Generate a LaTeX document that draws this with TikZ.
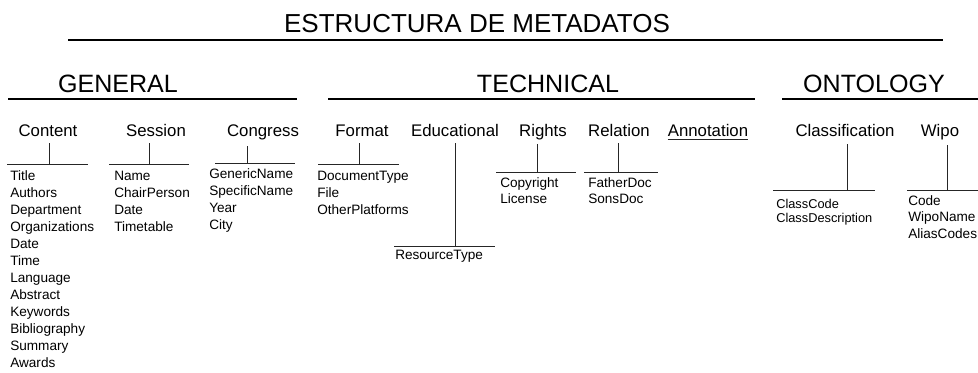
\documentclass[tikz,border=0pt]{standalone}
\usepackage{fontspec}
\setmainfont{Liberation Sans}

\begin{document}
\begin{tikzpicture}[x=0.75pt,y=-0.75pt]
        \tikzstyle{every node}+=[inner sep=0pt]
        \tikzstyle{head}=[font=\fontsize{18.8}{22}\selectfont, anchor=base]
        \tikzstyle{sub}=[font=\fontsize{12.6}{15}\selectfont, anchor=base]
        \tikzstyle{items}=[font=\fontsize{10.2}{12.8}\selectfont, anchor=north west, align=left]
        \tikzstyle{rule}=[black, line width=1.5pt]
        \tikzstyle{branch}=[black!85, line width=0.75pt]
        \useasboundingbox (0,0) rectangle (978,372);
        % title
        \node [head, font=\fontsize{19.5}{22}\selectfont] (title) at (477,32) {ESTRUCTURA DE METADATOS};
        \coordinate (titleL) at (68,40);
        \coordinate (titleR) at (943,40);
        \draw [black, line width=0.9pt] (titleL) -- (titleR);
        % sections
        \node [head] (general) at (118,92) {GENERAL};
        \coordinate (generalL) at (8,99);
        \coordinate (generalR) at (297,99);
        \draw [rule] (generalL) -- (generalR);
        \node [head] (technical) at (548,92) {TECHNICAL};
        \coordinate (technicalL) at (328,99);
        \coordinate (technicalR) at (755,99);
        \draw [rule] (technicalL) -- (technicalR);
        \node [head] (ontology) at (874,92) {ONTOLOGY};
        \coordinate (ontologyL) at (782,99);
        \coordinate (ontologyR) at (978,99);
        \draw [rule] (ontologyL) -- (ontologyR);
        % general
        \node [sub] (content) at (48,136) {Content};
        \coordinate (contentbar) at (49,164);
        \coordinate (contentL) at (7,164);
        \coordinate (contentR) at (88,164);
        \draw [branch] (contentL) -- (contentR);
        \draw [branch] ([yshift=-5pt]content.south -| contentbar) -- (contentbar);
        \node [items] (contentlist) at (10,170) {Title\\Authors\\Department\\Organizations\\Date\\Time\\Language\\Abstract\\Keywords\\Bibliography\\Summary\\Awards};
        \node [sub] (session) at (156,136) {Session};
        \coordinate (sessionbar) at (149,164);
        \coordinate (sessionL) at (109,164);
        \coordinate (sessionR) at (189,164);
        \draw [branch] (sessionL) -- (sessionR);
        \draw [branch] ([yshift=-5pt]session.south -| sessionbar) -- (sessionbar);
        \node [items] (sessionlist) at (114,171) {Name\\ChairPerson\\Date\\Timetable};
        \node [sub] (congress) at (263,136) {Congress};
        \coordinate (congressbar) at (247,163);
        \coordinate (congressL) at (215,163);
        \coordinate (congressR) at (295,163);
        \draw [branch] (congressL) -- (congressR);
        \draw [branch] ([yshift=-5pt]congress.south -| congressbar) -- (congressbar);
        \node [items] (congresslist) at (209,168) {GenericName\\SpecificName\\Year\\City};
        % technical
        \node [sub] (format) at (362,136) {Format};
        \coordinate (formatbar) at (359,164);
        \coordinate (formatL) at (318,164);
        \coordinate (formatR) at (399,164);
        \draw [branch] (formatL) -- (formatR);
        \draw [branch] ([yshift=-5pt]format.south -| formatbar) -- (formatbar);
        \node [items] (formatlist) at (317,171) {DocumentType\\File\\OtherPlatforms};
        \node [sub] (educational) at (455,136) {Educational};
        \coordinate (educationalbar) at (455,246);
        \coordinate (educationalL) at (394,246);
        \coordinate (educationalR) at (495,246);
        \draw [branch] (educationalL) -- (educationalR);
        \draw [branch] ([yshift=-5pt]educational.south -| educationalbar) -- (educationalbar);
        \node [items] (educationallist) at (395,250) {ResourceType};
        \node [sub] (rights) at (543,136) {Rights};
        \coordinate (rightsbar) at (537,172);
        \coordinate (rightsL) at (496,172);
        \coordinate (rightsR) at (576,172);
        \draw [branch] (rightsL) -- (rightsR);
        \draw [branch] ([yshift=-3pt]rights.south -| rightsbar) -- (rightsbar);
        \node [items, font=\fontsize{10.2}{12.5}\selectfont] (rightslist) at (500,177) {Copyright\\License};
        \node [sub] (relation) at (619,136) {Relation};
        \coordinate (relationbar) at (618,172);
        \coordinate (relationL) at (584,172);
        \coordinate (relationR) at (658,172);
        \draw [branch] (relationL) -- (relationR);
        \draw [branch] ([yshift=-5pt]relation.south -| relationbar) -- (relationbar);
        \node [items, font=\fontsize{10.2}{12.5}\selectfont] (relationlist) at (588,177) {FatherDoc\\SonsDoc};
        \node [sub] (annotation) at (708,136) {Annotation};
        \draw [branch] ([yshift=-2.5pt]annotation.south west) -- ([yshift=-2.5pt]annotation.south east);
        % ontology
        \node [sub] (classification) at (845,136) {Classification};
        \coordinate (classificationbar) at (847,190);
        \coordinate (classificationL) at (773,190);
        \coordinate (classificationR) at (875,190);
        \draw [branch] (classificationL) -- (classificationR);
        \draw [branch] ([yshift=-6pt]classification.south -| classificationbar) -- (classificationbar);
        \node [items, font=\fontsize{9.6}{10.5}\selectfont] (classificationlist) at (776,199) {ClassCode\\ClassDescription};
        \node [sub] (wipo) at (940,136) {Wipo};
        \coordinate (wipobar) at (947,190);
        \coordinate (wipoL) at (907,190);
        \coordinate (wipoR) at (978,190);
        \draw [branch] (wipoL) -- (wipoR);
        \draw [branch] ([yshift=-4pt]wipo.south -| wipobar) -- (wipobar);
        \node [items, font=\fontsize{10.2}{12.5}\selectfont] (wipolist) at (908,195) {Code\\WipoName\\AliasCodes};
\end{tikzpicture}
\end{document}
